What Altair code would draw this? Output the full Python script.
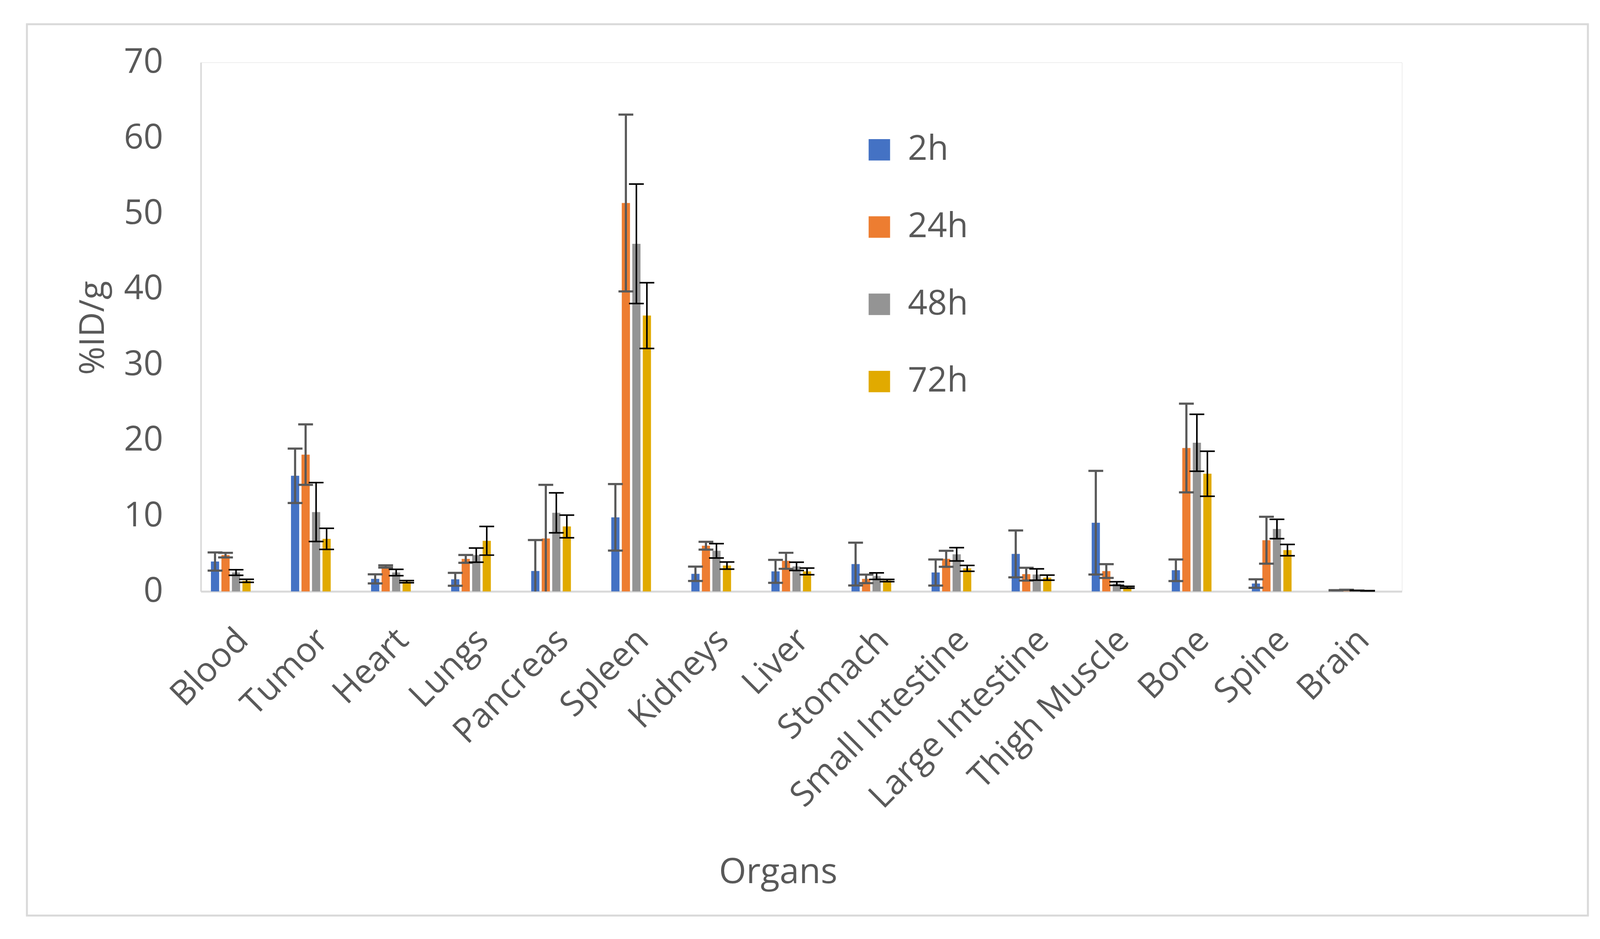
import altair as alt
import pandas as pd

organs = ["Blood", "Tumor", "Heart", "Lungs", "Pancreas", "Spleen", "Kidneys",
          "Liver", "Stomach", "Small Intestine", "Large Intestine",
          "Thigh Muscle", "Bone", "Spine", "Brain"]
times = ["2h", "24h", "48h", "72h"]

v_2h = [3.95, 15.3, 1.66, 1.6, 2.7, 9.8, 2.33, 2.65, 3.62, 2.5, 4.96, 9.09, 2.8, 1.04, 0.15]
e_2h = [1.2, 3.6, 0.6, 0.85, 4.1, 4.4, 0.95, 1.52, 2.83, 1.73, 3.1, 6.86, 1.43, 0.56, 0.02]
v_24h = [4.8, 18.1, 3.3, 4.3, 7.0, 51.4, 6.05, 4.05, 1.66, 4.31, 2.28, 2.69, 18.98, 6.77, 0.2]
e_24h = [0.3, 4.0, 0.15, 0.52, 7.1, 11.7, 0.52, 1.06, 0.56, 1.06, 0.85, 0.91, 5.87, 3.1, 0.02]
v_48h = [2.5, 10.5, 2.5, 4.8, 10.4, 46.0, 5.37, 3.31, 2.02, 4.91, 2.23, 1.04, 19.67, 8.26, 0.12]
e_48h = [0.37, 3.9, 0.42, 0.94, 2.64, 7.9, 0.95, 0.55, 0.43, 0.88, 0.75, 0.24, 3.77, 1.28, 0.02]
v_72h = [1.4, 6.95, 1.29, 6.7, 8.6, 36.5, 3.42, 2.65, 1.44, 3.05, 1.82, 0.55, 15.57, 5.47, 0.08]
e_72h = [0.2, 1.4, 0.14, 1.9, 1.5, 4.35, 0.47, 0.44, 0.15, 0.39, 0.34, 0.12, 2.98, 0.75, 0.02]

colors = ["#4472C4", "#ED7D31", "#949494", "#E1AA00"]
err_colors = {"2h": "#595959", "24h": "#595959", "48h": "#000000", "72h": "#000000"}

rows = []
for t, vals, errs in [("2h", v_2h, e_2h), ("24h", v_24h, e_24h),
                      ("48h", v_48h, e_48h), ("72h", v_72h, e_72h)]:
    for o, v, e in zip(organs, vals, errs):
        rows.append({"organ": o, "time": t, "value": v, "err": e,
                     "lo": max(v - e, 0.0), "hi": v + e,
                     "has_lo": (v - e) > 0})
df = pd.DataFrame(rows)

W, H = 3080, 1356
FONT = "Open Sans"
TXT = "#595959"

xscale = alt.Scale(domain=organs, paddingInner=0.504, paddingOuter=0.252, align=0.25)
offscale = alt.Scale(domain=times, paddingInner=0.22, paddingOuter=0)
yscale = alt.Scale(domain=[0, 70], nice=False)

xaxis = alt.Axis(title="Organs", labelAngle=-45, labelAlign="right", labelBaseline="top",
                 labelPadding=80, labelFontSize=88, labelColor=TXT, labelFont=FONT,
                 labelLimit=0, labelOverlap=False, ticks=False,
                 domainColor="#D9D9D9", domainWidth=5,
                 titleFontSize=90, titleFont=FONT, titleColor=TXT, titleFontWeight="normal",
                 titleX=1480, titleY=720, titleAlign="center", titleBaseline="middle")
yaxis = alt.Axis(title="%ID/g", values=[0, 10, 20, 30, 40, 50, 60, 70], ticks=False, grid=False,
                 labelPadding=97, labelFontSize=88, labelColor=TXT, labelFont=FONT,
                 domainColor="#D9D9D9", domainWidth=4,
                 titleFontSize=88, titleFont=FONT, titleColor=TXT, titleFontWeight="normal",
                 titleX=-275, titleY=680, titleAlign="center", titleBaseline="middle", titleAngle=-90)

legend = alt.Legend(title=None, orient="none", legendX=1696, legendY=180, direction="vertical",
                    symbolType="square", symbolSize=3025, symbolStrokeWidth=0, symbolOpacity=1,
                    labelFontSize=88, labelFont=FONT, labelColor=TXT, labelOffset=29,
                    rowPadding=110, padding=0)

base = alt.Chart(df)

bars = base.mark_bar().encode(
    x=alt.X("organ:N", sort=organs, scale=xscale, axis=xaxis),
    xOffset=alt.XOffset("time:N", sort=times, scale=offscale),
    y=alt.Y("value:Q", scale=yscale, axis=yaxis),
    color=alt.Color("time:N", sort=times, scale=alt.Scale(domain=times, range=colors), legend=legend),
)

layers = [bars]
for group, col, sw, th in [(["2h", "24h"], "#595959", 5.5, 5.5), (["48h", "72h"], "#000000", 4, 4)]:
    sub = base.transform_filter(alt.FieldOneOfPredicate(field="time", oneOf=group))
    enc = dict(x=alt.X("organ:N", sort=organs), xOffset=alt.XOffset("time:N", sort=times))
    layers.append(sub.mark_rule(color=col, strokeWidth=sw).encode(y="lo:Q", y2="hi:Q", **enc))
    layers.append(sub.mark_tick(color=col, thickness=th, size=38, orient="horizontal", opacity=1)
                  .encode(y="hi:Q", **enc))
    layers.append(sub.transform_filter("datum.has_lo").mark_tick(color=col, thickness=th, size=38,
                                                                   orient="horizontal", opacity=1)
                  .encode(y="lo:Q", **enc))

frame = alt.Chart(pd.DataFrame({"k": [0]})).mark_rect(
    fillOpacity=0, stroke="#D9D9D9", strokeWidth=5
).encode(x=alt.value(-446), x2=alt.value(3557), y=alt.value(-98), y2=alt.value(2187))
layers.append(frame)

chart = alt.layer(*layers).properties(
    width=W, height=H,
    autosize=alt.AutoSizeParams(type="none"),
    padding={"left": 507, "top": 150, "right": 500, "bottom": 860},
).configure_view(stroke=None).configure(background="white")

chart.save("out.html", embed_options={"renderer": "svg", "actions": False})
